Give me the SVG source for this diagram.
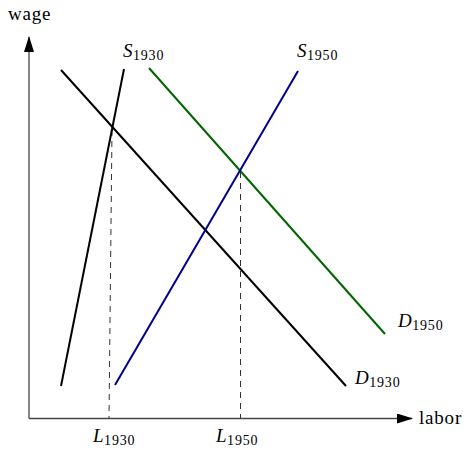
<svg xmlns="http://www.w3.org/2000/svg" width="466" height="450" viewBox="0 0 466 450">
<defs>
<marker id="ah" viewBox="0 0 16 10" refX="15" refY="5" markerWidth="16" markerHeight="10" markerUnits="userSpaceOnUse" orient="auto">
<path d="M0,0 L16,5 L0,10 z" fill="#000"/>
</marker>
<style>
.t{font-family:"Liberation Serif","DejaVu Serif",serif;font-size:19px;letter-spacing:0.8px;fill:#000}
.i{font-style:italic;font-size:19px;letter-spacing:0.5px}
.s{font-size:14px;letter-spacing:0.8px}
.ax{stroke:#444;stroke-width:1.3;fill:none}
.c{stroke-width:2;fill:none}
.d{stroke:#333;stroke-width:1;stroke-dasharray:6,5;fill:none}
</style>
</defs>
<g id="axes">
<line class="ax" x1="29" y1="418.5" x2="29" y2="37" marker-end="url(#ah)"/>
<line class="ax" x1="29" y1="418.5" x2="412" y2="418.5" marker-end="url(#ah)"/>
</g>
<g id="connectors">
<line class="d" x1="112" y1="130" x2="109" y2="418"/>
<line class="d" x1="240.5" y1="172" x2="240.5" y2="418"/>
</g>
<g id="D1930">
<line class="c" stroke="#000" x1="61" y1="70" x2="346" y2="386"/>
<text class="t" x="355" y="384"><tspan class="i">D</tspan><tspan class="s" dy="3">1930</tspan></text>
</g>
<g id="S1930">
<line class="c" stroke="#000" x1="61" y1="386" x2="124" y2="69"/>
<text class="t" x="123" y="57"><tspan class="i">S</tspan><tspan class="s" dy="3">1930</tspan></text>
</g>
<g id="D1950">
<line class="c" stroke="#006400" x1="149" y1="68" x2="385" y2="334"/>
<text class="t" x="398" y="327"><tspan class="i">D</tspan><tspan class="s" dy="3">1950</tspan></text>
</g>
<g id="S1950">
<line class="c" stroke="#00008b" x1="115" y1="385" x2="298" y2="71"/>
<text class="t" x="297" y="57"><tspan class="i">S</tspan><tspan class="s" dy="3">1950</tspan></text>
</g>
<g id="labels">
<text class="t" x="8" y="20">wage</text>
<text class="t" x="419" y="424">labor</text>
<text class="t" x="93" y="442"><tspan class="i">L</tspan><tspan class="s" dy="3">1930</tspan></text>
<text class="t" x="216" y="442"><tspan class="i">L</tspan><tspan class="s" dy="3">1950</tspan></text>
</g>
</svg>
